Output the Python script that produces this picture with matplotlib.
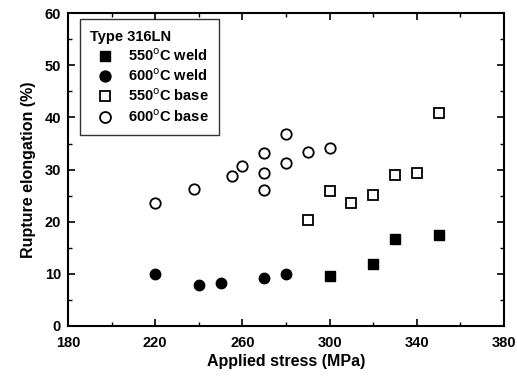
import matplotlib
matplotlib.use("Agg")
import matplotlib.pyplot as plt
from matplotlib.ticker import MultipleLocator

plt.rcParams['font.family'] = ['Liberation Sans', 'DejaVu Sans']

weld550_x = [300, 320, 330, 350]
weld550_y = [9.6, 11.9, 16.7, 17.4]
weld600_x = [220, 240, 250, 270, 280]
weld600_y = [9.9, 7.8, 8.3, 9.3, 9.9]
base550_x = [290, 300, 310, 320, 330, 340, 350]
base550_y = [20.3, 25.8, 23.5, 25.2, 29.0, 29.3, 40.8]
base600_x = [220, 238, 255, 260, 270, 270, 270, 280, 280, 290, 300]
base600_y = [23.5, 26.3, 28.8, 30.6, 33.2, 29.3, 26.1, 36.8, 31.2, 33.4, 34.2]
xticks = [180, 220, 260, 300, 340, 380]
yticks = [0, 10, 20, 30, 40, 50, 60]

fig = plt.figure(figsize=(5.17, 3.76), dpi=100)
ax = fig.add_axes([0.1315, 0.133, 0.8435, 0.832])

ms = 7.5
ax.plot(weld550_x, weld550_y, 's', color='black', ms=ms, label='550$^{\\rm o}$C weld')
ax.plot(weld600_x, weld600_y, 'o', color='black', ms=ms, label='600$^{\\rm o}$C weld')
ax.plot(base550_x, base550_y, 's', mfc='white', mec='black', mew=1.3, ms=ms, label='550$^{\\rm o}$C base')
ax.plot(base600_x, base600_y, 'o', mfc='white', mec='black', mew=1.3, ms=ms, label='600$^{\\rm o}$C base')

ax.set_xlim(180, 380)
ax.set_ylim(0, 60)
ax.set_xticks(xticks)
ax.set_xticks([200, 240, 280, 320, 360], minor=True)
ax.set_yticks(yticks)
ax.yaxis.set_minor_locator(MultipleLocator(5))
ax.tick_params(which='both', direction='in', top=True, right=True, labelsize=10.5)
ax.tick_params(which='major', length=5, width=1.2)
ax.tick_params(which='minor', length=3, width=1)
ax.tick_params(axis='x', which='major', pad=7)
ax.tick_params(axis='y', which='major', pad=5)
for lab in ax.get_xticklabels() + ax.get_yticklabels():
    lab.set_fontweight('bold')
for s in ax.spines.values():
    s.set_linewidth(1.5)

ax.set_xlabel('Applied stress (MPa)', fontsize=11.5, fontweight='bold', labelpad=3)
ax.set_ylabel('Rupture elongation (%)', fontsize=11.5, fontweight='bold', labelpad=6)

leg = ax.legend(loc='upper left', title='Type 316LN', frameon=True, fancybox=False,
                edgecolor='black', fontsize=10.5, title_fontsize=10.5,
                borderaxespad=0.0, handletextpad=0.6, labelspacing=0.25,
                markerscale=1.05, borderpad=0.7,
                bbox_to_anchor=(0.027, 0.98))
leg.get_frame().set_linewidth(1.0)
leg._legend_box.align = 'left'
for t in leg.get_texts():
    t.set_fontweight('bold')
leg.get_title().set_fontweight('bold')

fig.savefig('out.png', dpi=100)
